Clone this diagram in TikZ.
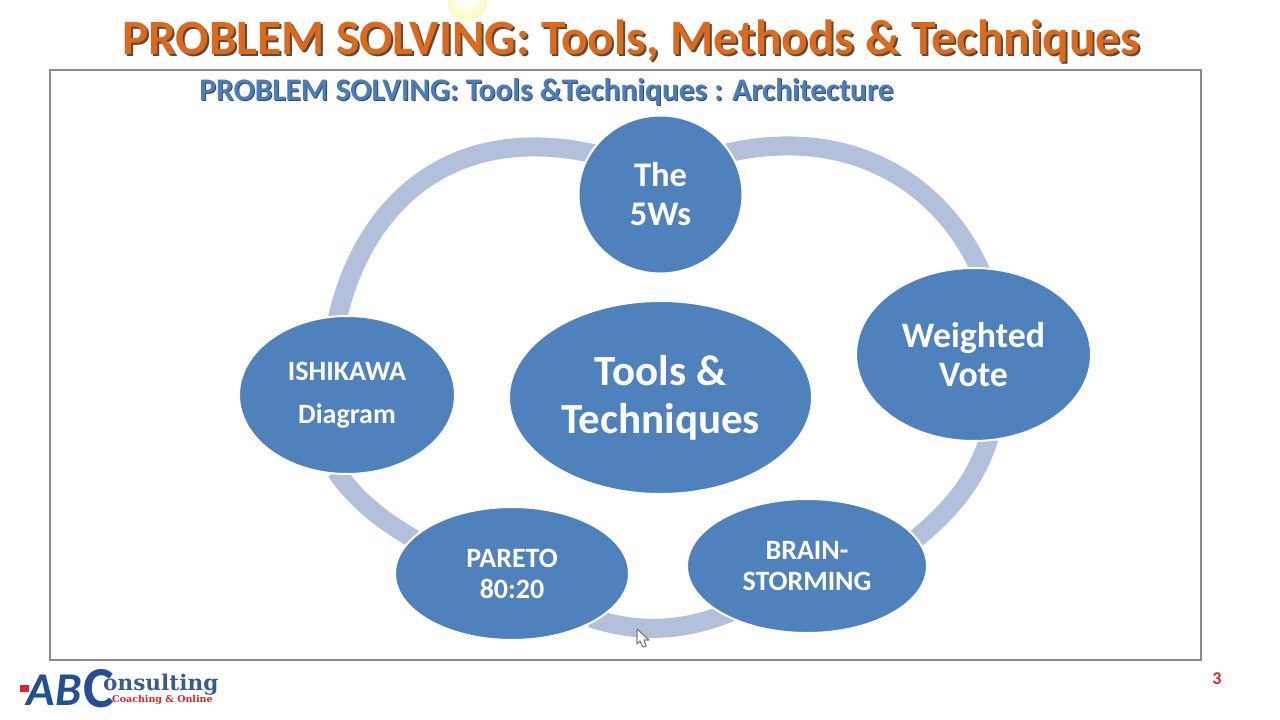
\documentclass[tikz,border=0pt]{standalone}
\usepackage{fontspec}
\setmainfont{Carlito}
\newfontfamily\logoserif{DejaVu Serif}
\usetikzlibrary{shapes.geometric,calc}
\definecolor{nodeblue}{HTML}{4F81BD}
\definecolor{ringblue}{HTML}{B3C0DC}
\definecolor{titleorange}{HTML}{DB6A1C}
\definecolor{titleshadow}{HTML}{5B4A3C}
\definecolor{subblue}{HTML}{4C7DBB}
\definecolor{subshadow}{HTML}{2E4A75}
\definecolor{framegray}{HTML}{8C8C8C}
\definecolor{logonavy}{HTML}{24508F}
\definecolor{logored}{HTML}{D8262C}
\tikzset{
  blob/.style={ellipse,fill=nodeblue,draw=white,line width=2pt,inner sep=0pt,text=white,align=center},
  blobsize/.style 2 args={minimum width=#1pt,minimum height=#2pt},
  ringarc/.style={draw=ringblue,line width=19pt},
  plain/.style={inner sep=0pt,anchor=center},
}
\begin{document}
\begin{tikzpicture}[x=1pt,y=-1pt]
\useasboundingbox (0,0) rectangle (1280,720);
% sun glow
\fill[yellow!18!white,draw=yellow!35!white,line width=1pt] (467,1) circle (19pt);
\fill[yellow!6!white] (467,-3) circle (13pt);
% titles
\node[plain,text=titleshadow,font=\fontsize{49.4}{56}\selectfont\bfseries] at (633,43) {PROBLEM SOLVING: Tools, Methods \& Techniques};
\node[plain,text=titleorange,font=\fontsize{49.4}{56}\selectfont\bfseries] (title) at (631,41) {PROBLEM SOLVING: Tools, Methods \& Techniques};
% frame
\node[draw=framegray,line width=2pt,minimum width=1151pt,minimum height=590pt,inner sep=0pt,fill=white] (frame) at (625.5,365) {};
\node[plain,text=subshadow,font=\fontsize{31.4}{36}\selectfont\bfseries] at (547.5,92.5) {PROBLEM SOLVING: Tools \&Techniques : Architecture};
\node[plain,text=subblue,font=\fontsize{31.4}{36}\selectfont\bfseries] (sub) at (546.5,91.5) {PROBLEM SOLVING: Tools \&Techniques : Architecture};
% ring arcs (ends run under the nodes drawn next)
\coordinate (a1) at (337,320);
\coordinate (a2) at (595,154);
\coordinate (b1) at (727,153);
\coordinate (b2) at (981,272);
\coordinate (c1) at (989,438);
\coordinate (c2) at (913,541);
\coordinate (d1) at (731,612);
\coordinate (d2) at (591,618);
\coordinate (e1) at (414,539);
\coordinate (e2) at (336,471);
\draw[ringarc] (a1) .. controls (362,208) and (447,121) .. (a2);
\draw[ringarc] (b1) .. controls (850,125) and (942,183) .. (b2);
\draw[ringarc] (c1) .. controls (975,483) and (948,513) .. (c2);
\draw[ringarc] (d1) .. controls (685,631) and (640,634) .. (d2);
\draw[ringarc] (e1) .. controls (385,522) and (358,503) .. (e2);
% nodes
\node[blob,blobsize={164}{158},font=\fontsize{34.5}{39}\selectfont\bfseries] (w5) at (660.5,194.5) {The\\5Ws};
\node[blob,blobsize={235}{173},font=\fontsize{35.8}{39}\selectfont\bfseries] (vote) at (973.5,354.5) {Weighted\\Vote};
\node[blob,blobsize={303}{193},font=\fontsize{43}{48}\selectfont\bfseries] (core) at (660.5,397.5) {\raisebox{-1pt}{Tools \&}\\\raisebox{-1pt}{Techniques}};
\node[blob,blobsize={216}{158},font=\fontsize{28}{43}\selectfont\bfseries] (ish) at (347,395) {\raisebox{-3pt}{ISHIKAWA}\\\raisebox{-3pt}{Diagram}};
\node[blob,blobsize={234}{133},font=\fontsize{28}{31}\selectfont\bfseries] (par) at (512,573.5) {PARETO\\80:20};
\node[blob,blobsize={240}{134},font=\fontsize{28}{31}\selectfont\bfseries] (bra) at (807,566) {BRAIN-\\STORMING};
% slide number
\node[plain,text=logored,font=\fontsize{18}{20}\selectfont\bfseries] (num) at (1217,679) {3};
% logo
\fill[logored] (20,685) rectangle (29,692);
\node[plain,text=logonavy,font=\fontsize{47}{47}\selectfont\bfseries\itshape] (logoab) at (54,690) {AB};
\node[plain,text=logonavy,font=\fontsize{58}{58}\selectfont\bfseries] (logoc) at (99,689) {C};
\node[plain,anchor=west,text=logonavy!75!gray,font=\logoserif\fontsize{21.6}{22}\selectfont\bfseries] (logot) at (103,685) {onsulting};
\node[plain,anchor=west,text=logored,font=\logoserif\fontsize{9.5}{10}\selectfont\bfseries] (logos) at (112,699.5) {Coaching \& Online};
% cursor
\draw[gray,fill=white,line width=1.2pt,line join=round] (637,629) -- (637,644) -- (640,641) -- (643,647) -- (646,646) -- (644,640) -- (649,640) -- cycle;
\end{tikzpicture}
\end{document}
